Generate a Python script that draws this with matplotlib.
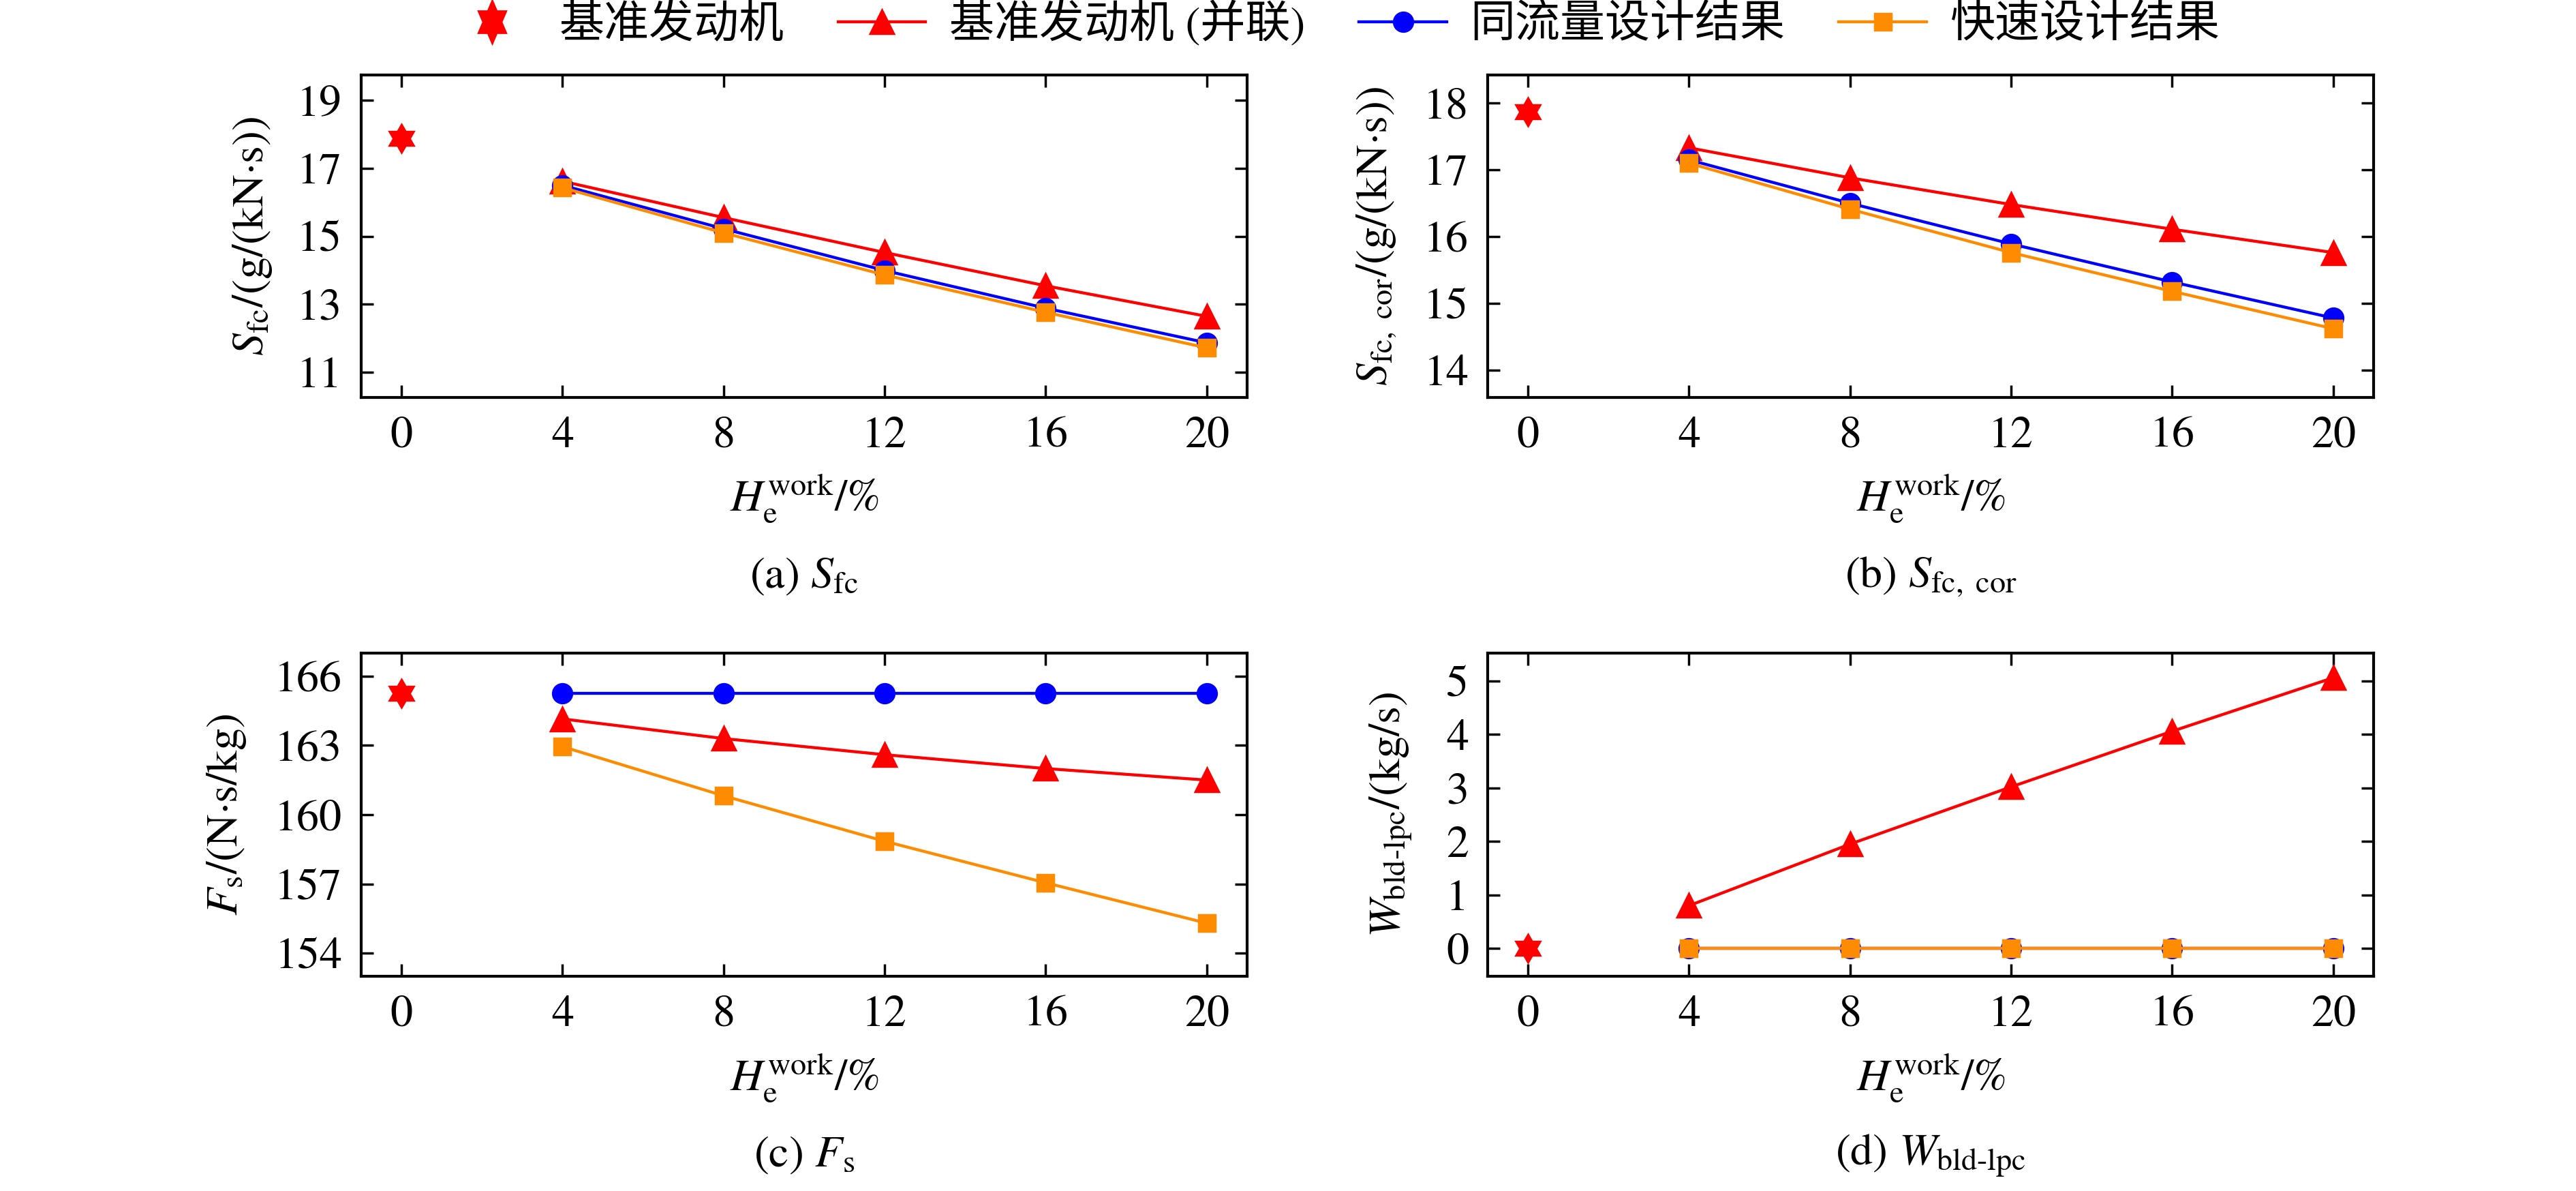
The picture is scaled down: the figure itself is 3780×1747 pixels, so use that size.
import matplotlib
matplotlib.use('Agg')
import numpy as np
import matplotlib.pyplot as plt
from matplotlib.lines import Line2D
from matplotlib.path import Path
from matplotlib.legend_handler import HandlerLine2D
from matplotlib.ticker import FixedLocator, MultipleLocator

plt.rcParams['font.family'] = ['STIXGeneral', 'Liberation Serif', 'Noto Sans CJK SC']
plt.rcParams['mathtext.fontset'] = 'stix'
plt.rcParams['font.size'] = 19

# data
h_work = [4, 8, 12, 16, 20]
h_base = [0]

sfc_base = [17.89]
sfc_par = [16.62, 15.55, 14.52, 13.54, 12.64]
sfc_same = [16.50, 15.22, 13.99, 12.88, 11.86]
sfc_fast = [16.43, 15.10, 13.86, 12.76, 11.71]

sfc_cor_base = [17.87]
sfc_cor_par = [17.33, 16.88, 16.48, 16.11, 15.76]
sfc_cor_same = [17.15, 16.50, 15.89, 15.32, 14.78]
sfc_cor_fast = [17.10, 16.41, 15.76, 15.18, 14.62]

fs_base = [165.25]
fs_par = [164.15, 163.30, 162.60, 162.00, 161.50]
fs_same = [165.25, 165.25, 165.25, 165.25, 165.25]
fs_fast = [162.95, 160.82, 158.85, 157.05, 155.30]

wb_base = [0.0]
wb_par = [0.80, 1.95, 3.02, 4.06, 5.06]
wb_same = [0.0, 0.0, 0.0, 0.0, 0.0]
wb_fast = [0.0, 0.0, 0.0, 0.0, 0.0]

sfc_ticks = [11, 13, 15, 17, 19]
sfc_cor_ticks = [14, 15, 16, 17, 18]
fs_ticks = [154, 157, 160, 163, 166]
wb_ticks = [0, 1, 2, 3, 4, 5]

legend_names = ['基准发动机', '基准发动机 (并联)', '同流量设计结果', '快速设计结果']

panels = [
    dict(base=sfc_base, par=sfc_par, same=sfc_same, fast=sfc_fast,
         ylim=(10.25, 19.75), yticks=sfc_ticks, ylabel=r'$S_{\mathrm{fc}}$/(g/(kN·s))',
         title=r'(a) $S_{\mathrm{fc}}$', pos=[0.1402, 0.6663, 0.3439, 0.2707], ylx=-0.123),
    dict(base=sfc_cor_base, par=sfc_cor_par, same=sfc_cor_same, fast=sfc_cor_fast,
         ylim=(13.59, 18.42), yticks=sfc_cor_ticks, ylabel=r'$S_{\mathrm{fc,\ cor}}$/(g/(kN·s))',
         title=r'(b) $S_{\mathrm{fc,\ cor}}$', pos=[0.5775, 0.6663, 0.3439, 0.2707], ylx=-0.125),
    dict(base=fs_base, par=fs_par, same=fs_same, fast=fs_fast,
         ylim=(153, 167), yticks=fs_ticks, ylabel=r'$F_{\mathrm{s}}$/(N·s/kg)',
         title=r'(c) $F_{\mathrm{s}}$', pos=[0.1402, 0.1803, 0.3439, 0.2713], ylx=-0.152),
    dict(base=wb_base, par=wb_par, same=wb_same, fast=wb_fast,
         ylim=(-0.52, 5.52), yticks=wb_ticks, ylabel=r'$W_{\mathrm{bld}\text{-}\mathrm{lpc}}$/(kg/s)',
         title=r'(d) $W_{\mathrm{bld}\text{-}\mathrm{lpc}}$', pos=[0.5775, 0.1803, 0.3439, 0.2713], ylx=-0.109),
]


def hexagram(stretch=1.0):
    # six-pointed star, tips on radius 1, notches on radius 1/sqrt(3)
    ang = np.pi / 2 + np.arange(12) * np.pi / 6
    rad = np.where(np.arange(12) % 2 == 0, 1.0, 1 / np.sqrt(3))
    verts = np.column_stack([rad * np.cos(ang), stretch * rad * np.sin(ang)])
    verts = np.vstack([verts, verts[:1]])
    codes = [Path.MOVETO] + [Path.LINETO] * 11 + [Path.CLOSEPOLY]
    return Path(verts, codes)


class RightMarker(HandlerLine2D):
    # put the lone marker near the right end of its handle
    def get_xdata(self, legend, xdescent, ydescent, width, height, fontsize):
        xdata, _ = super().get_xdata(legend, xdescent, ydescent, width, height, fontsize)
        return xdata, [-xdescent + width - 0.26 * fontsize]


fig = plt.figure(figsize=(15.12, 6.988), dpi=250)

handles = None
for p in panels:
    ax = fig.add_axes(p['pos'])
    ax.plot(h_base, p['base'], linestyle='none', marker=hexagram(), ms=13.5,
            color='#ff0000', mew=0, zorder=5)
    red, = ax.plot(h_work, p['par'], '-^', color='#ff0000', lw=1.25, ms=10)
    blue, = ax.plot(h_work, p['same'], '-o', color='#0000ff', lw=1.25, ms=8)
    orange, = ax.plot(h_work, p['fast'], '-s', color='#ff8c00', lw=1.25, ms=7)
    handles = [red, blue, orange]

    ax.set_xlim(-1, 21)
    ax.set_ylim(p['ylim'])
    ax.xaxis.set_major_locator(MultipleLocator(4))
    ax.yaxis.set_major_locator(FixedLocator(p['yticks']))
    ax.tick_params(direction='in', top=True, right=True, length=5.3, width=1.0,
                   labelsize=19, pad=8)
    for s in ax.spines.values():
        s.set_linewidth(1.2)

    ax.set_xlabel(r'$H_{\mathrm{e}}^{\mathrm{work}}$/%', fontsize=19)
    ax.xaxis.label.set_va('center')
    ax.xaxis.set_label_coords(0.5, -0.314)
    ax.set_ylabel(p['ylabel'], fontsize=19)
    ax.yaxis.label.set_va('center')
    ax.yaxis.set_label_coords(p['ylx'], 0.5)
    ax.text(0.5, -0.556, p['title'], transform=ax.transAxes, ha='center', va='center',
            fontsize=19)

star_handle = Line2D([], [], linestyle='none', marker=hexagram(1.35), ms=20,
                     color='#ff0000', mew=0)
fig.legend([star_handle] + handles, legend_names, loc='center left',
           bbox_to_anchor=(0.174, 0.98), ncol=4, frameon=False, fontsize=19,
           handlelength=1.95, handletextpad=0.52, columnspacing=1.2,
           borderpad=0, borderaxespad=0, handler_map={star_handle: RightMarker()})

fig.savefig('out.png', dpi=250)
